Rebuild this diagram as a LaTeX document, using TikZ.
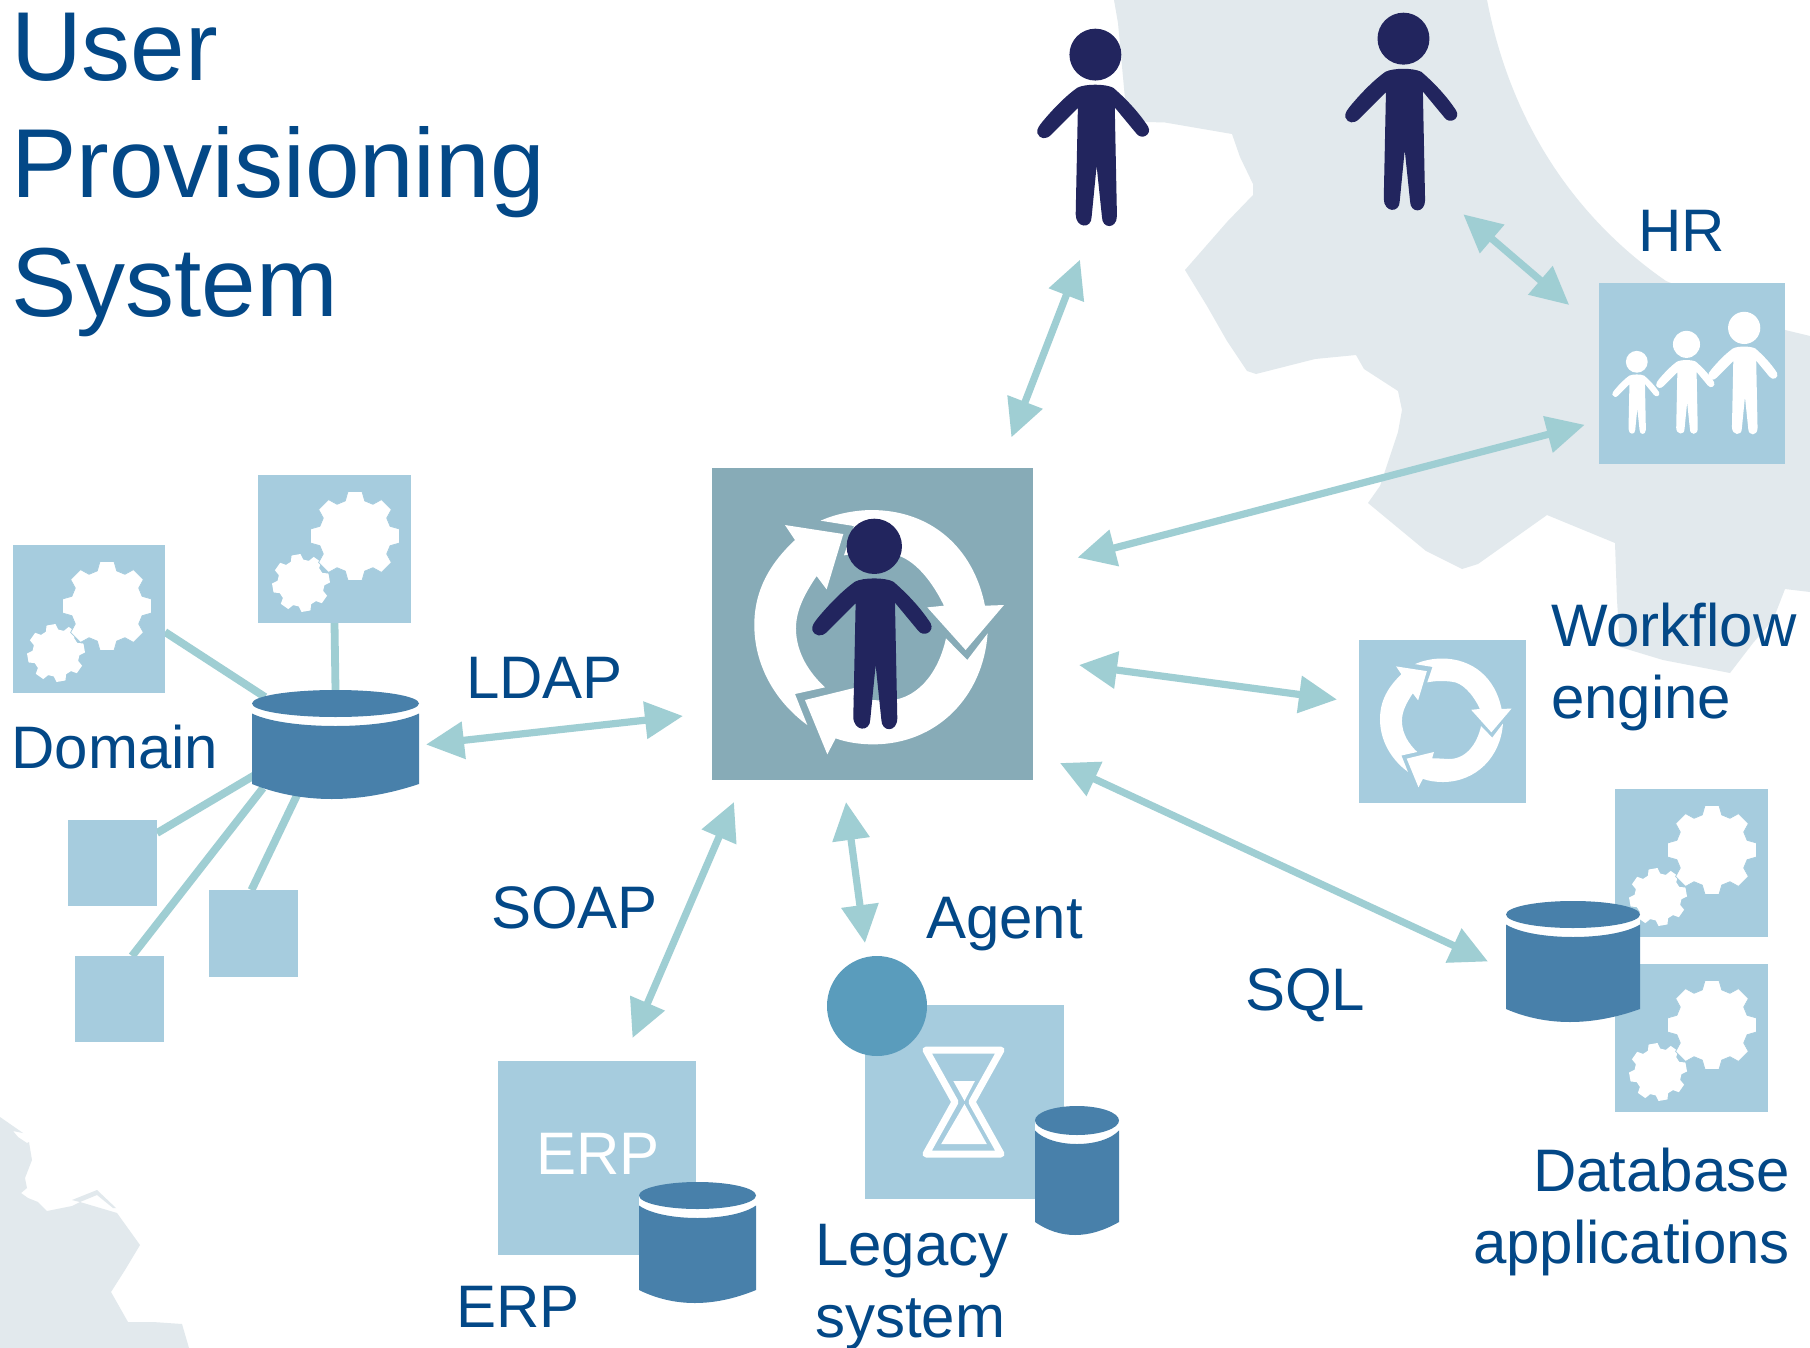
\documentclass[tikz,border=0pt]{standalone}
\usepackage{fontspec}
\setmainfont{Liberation Sans}
\usetikzlibrary{arrows.meta}
\definecolor{txtblue}{HTML}{034887}
\definecolor{boxblue}{HTML}{A6CCDE}
\definecolor{mainbox}{HTML}{87ABB7}
\definecolor{connc}{HTML}{9FCED3}
\definecolor{navy}{HTML}{22255E}
\definecolor{cylc}{HTML}{4880AA}
\definecolor{agentc}{HTML}{5A9CBC}
\definecolor{mapc}{HTML}{E2E9ED}
\pgfdeclarelayer{maplayer}
\pgfdeclarelayer{connlayer}
\pgfsetlayers{maplayer,connlayer,main}
\tikzset{
  label text/.style={inner sep=0pt,outer sep=0pt,text=txtblue,font=\fontsize{30}{36}\selectfont,align=left},
  title text/.style={inner sep=0pt,outer sep=0pt,text=txtblue,font=\fontsize{49}{59}\selectfont,align=left},
  solidbox/.style={inner sep=0pt,outer sep=0pt,fill=boxblue},
  ghost/.style={inner sep=0pt,outer sep=0pt},
  link/.style={draw=connc,line width=3.9pt},
  biarrow/.style={draw=connc,line width=3.6pt,{Triangle[length=19pt,width=18pt]}-{Triangle[length=19pt,width=18pt]}},
}
% name, x1, y1, x2, y2, style
\newcommand\pxbox[6]{\node[#6,minimum width={(#4-#2)*0.5pt},minimum height={(#5-#3)*0.5pt}] (#1) at ({(#2+#4)/2},{(#3+#5)/2}) {};}
% x, y, R, rotation, extra
\newcommand\gearfig[5]{%
  \pgfmathsetmacro\gearroot{#3*0.81}%
  \begin{scope}[shift={(#1,#2)}]
    \fill[white,#5] ({#4-15.5}:\gearroot)
      \foreach \k in {0,...,7}{ -- ({#4+45*\k-15.5}:\gearroot) -- ({#4+45*\k-9}:#3) -- ({#4+45*\k+9}:#3) -- ({#4+45*\k+15.5}:\gearroot) } -- cycle;
  \end{scope}}
% box top-left x, y, big gear offset x
\newcommand\gearpair[3]{%
  \begin{scope}[shift={(#1,#2)}]
    \gearfig{43}{108}{29}{35}{}
    \gearfig{#3}{61}{45}{0}{draw=boxblue,line width=0.4pt}
  \end{scope}}
% name,x1,x2,ytop,ry,ysides,ylow
\newcommand\cylnode[7]{%
  \pgfmathsetmacro\cxa{(#2+#3)/2}%
  \pgfmathsetmacro\cw{#3-#2}%
  \pgfmathsetmacro\crx{\cw/2}%
  \pgfmathsetmacro\cyc{#4+#5}%
  \pgfmathsetmacro\cyo{\cyc+10}%
  \pgfmathsetmacro\cyw{\cyc+#5+10}%
  \pgfmathsetmacro\cyd{\cyo+(#5-1)/0.75}%
  \pgfmathsetmacro\cxl{#2+\cw*0.2}%
  \pgfmathsetmacro\cxr{#3-\cw*0.2}%
  \pgfmathsetmacro\cxp{#2+\cw*0.3}%
  \pgfmathsetmacro\cxq{#3-\cw*0.36}%
  \pgfmathsetmacro\cyb{#6+(#7-#6)/0.75}%
  \pxbox{#1}{#2}{#4}{#3}{#7}{ghost}
  \fill[white] (#2,\cyc) -- (#3,\cyc) -- (#3,\cyw) -- (#2,\cyw) -- cycle;
  \fill[cylc] (\cxa,\cyc) ellipse ({\crx} and {#5});
  \fill[cylc] (#2,\cyo) .. controls (\cxl,\cyd) and (\cxr,\cyd) .. (#3,\cyo)
     -- (#3,#6) .. controls (\cxq,\cyb) and (\cxp,\cyb) .. (#2,#6) -- cycle;
}
% cx, cy, scale
\newcommand\cyclearrows[3]{%
  \begin{scope}[shift={(#1,#2)},scale=#3,shift={(-550,-530)}]
    \fill[white] (352,825) .. controls (250,750) and (193,640) .. (193,525)
      .. controls (193,420) and (240,340) .. (315,270) -- (285,225) -- (460,252) -- (410,418) -- (380,378)
      .. controls (345,430) and (318,480) .. (318,535) .. controls (318,610) and (360,670) .. (405,712)
      -- (315,732) -- cycle;
    \fill[white] (392,212) .. controls (440,190) and (500,180) .. (545,180)
      .. controls (720,180) and (850,290) .. (885,467) -- (942,465) -- (827,600) -- (712,472) -- (762,467)
      .. controls (720,380) and (660,315) .. (600,312) .. controls (550,305) and (500,308) .. (462,316)
      -- (492,228) -- cycle;
    \fill[white] (893,550) .. controls (880,740) and (740,883) .. (550,883)
      .. controls (510,883) and (470,877) .. (437,865) -- (412,913) -- (345,750) -- (500,712) -- (490,748)
      .. controls (520,748) and (550,750) .. (580,752) .. controls (680,755) and (745,670) .. (768,565)
      -- (832,630) -- cycle;
  \end{scope}}
% name, center x, top y, scale, colour
\newcommand\persona[5]{%
  \pgfmathsetmacro\phw{180*#4}%
  \pgfmathsetmacro\phh{631*#4}%
  \pxbox{#1}{#2-\phw}{#3}{#2+\phw}{#3+\phh}{ghost}
  \begin{scope}[shift={(#2,#3)},scale=#4,shift={(-547,-207)}]
    \fill[#5] (553,289) circle (83);
    \fill[#5] (497,460) -- (412,545) .. controls (395,562) and (375,560) .. (367,540)
      .. controls (365,525) and (375,515) .. (385,502) .. controls (420,460) and (460,420) .. (495,395)
      .. controls (520,382) and (585,382) .. (610,395) .. controls (645,425) and (690,470) .. (722,520)
      .. controls (735,545) and (700,565) .. (683,540) -- (615,458) -- (622,805)
      .. controls (622,848) and (574,848) .. (574,808) -- (557,645) -- (541,808)
      .. controls (541,848) and (490,845) .. (490,800) -- cycle;
  \end{scope}}
\begin{document}
\begin{tikzpicture}[x=0.5pt,y=-0.5pt]
\path[use as bounding box] (0,0) rectangle (1810,1348);

% map
\begin{pgfonlayer}{maplayer}
\fill[white] (0,0) rectangle (1810,1348);
\fill[mapc] (1114,0) -- (1118,23) -- (1126.5,115) -- (1147,122) -- (1165,122.5) -- (1232,134) -- (1240,157)
  -- (1253,184) -- (1253,195) -- (1227,222) -- (1185,270) -- (1207,306) -- (1227,341) -- (1247,371)
  -- (1256,374) -- (1315,359) -- (1356,355) -- (1364,369) -- (1398,391) -- (1402,410) -- (1398,432)
  -- (1380,486) -- (1368,503) -- (1426,551) -- (1462,569) -- (1478,564) -- (1547,515) -- (1615,543)
  -- (1617,600) -- (1620,647) -- (1663,660) -- (1730,673) -- (1753,643) -- (1773,620) -- (1785,589)
  -- (1810,592) -- (1810,336) -- (1785,330) -- (1666,281) .. controls (1595,232) and (1515,145) .. (1487,0) -- cycle;
\fill[mapc] (0,1117) -- (23,1133) -- (13,1131) -- (18,1137) -- (27,1143) -- (29,1142) -- (32,1160) -- (25,1178)
  -- (27,1188) -- (21,1193) -- (28,1198) -- (38,1202) -- (47,1211) -- (72,1206) -- (80,1202) -- (72,1200) -- (97,1190)
  -- (116,1208) -- (113,1208) -- (97,1195) -- (80,1202) -- (117,1213) -- (140,1245) -- (125,1270) -- (111,1292) -- (128,1322) -- (153,1322)
  -- (182,1324) -- (189,1348) -- (0,1348) -- cycle;
\end{pgfonlayer}

% title
\node[title text,anchor=base west] (title) at (11,316) {User\\Provisioning\\System};

% main box
\pxbox{main}{712}{468}{1033}{780}{solidbox,fill=mainbox}
\cyclearrows{873.3}{626.7}{0.3333}
\persona{mainp}{872.3}{519}{0.3333}{navy}

% people
\persona{pone}{1093.5}{29}{0.3125}{navy}
\persona{ptwo}{1401.6}{13}{0.313}{navy}

% HR
\pxbox{hr}{1598.6}{283}{1784.6}{464}{solidbox}
\persona{hrc}{1636}{351}{0.1315}{white}
\persona{hrb}{1685.5}{331}{0.163}{white}
\persona{hra}{1743}{312}{0.194}{white}
\node[label text,anchor=base west] (hrl) at (1638,252) {HR};

% workflow
\pxbox{wf}{1359}{640}{1526}{803}{solidbox}
\cyclearrows{1442.7}{720}{0.1757}
\node[label text,anchor=base west] (wfl) at (1551,718) {Workflow\\engine};

% database applications
\pxbox{appa}{1615}{789}{1768}{937}{solidbox}
\gearpair{1615}{789}{97}
\pxbox{appb}{1615}{964}{1768}{1112}{solidbox}
\gearpair{1615}{964}{97}
\cylnode{dba}{1506}{1640}{901}{13.5}{1009}{1022}
\node[label text,anchor=base east,align=right] (dbl) at (1790,1263) {Database\\applications};
\node[label text,anchor=base west] (sql) at (1245,1010) {SQL};

% domain
\pxbox{doma}{13}{545}{165}{693}{solidbox}
\gearpair{13}{545}{94}
\pxbox{domb}{258}{475}{411}{623}{solidbox}
\gearpair{258}{475}{97}
\cylnode{dbd}{252}{419}{690}{13.5}{784}{799}
\pxbox{sqa}{68}{820}{157}{906}{solidbox}
\pxbox{sqb}{209}{890}{298}{977}{solidbox}
\pxbox{sqc}{75}{956}{164}{1042}{solidbox}
\node[label text,anchor=base west] (doml) at (11.5,768) {Domain};
\node[label text,anchor=base west] (ldap) at (466,698) {LDAP};
\node[label text,anchor=base west] (soap) at (491,928) {SOAP};

% ERP
\pxbox{erp}{498}{1061}{696}{1255}{solidbox}
\node[label text,anchor=base west,text=white] (erpw) at (536,1174) {ERP};
\cylnode{dbe}{639}{756}{1182}{13.5}{1290}{1303}
\node[label text,anchor=base west] (erpl) at (456,1327) {ERP};

% legacy
\pxbox{leg}{865}{1005}{1064}{1199}{solidbox}
\draw[white,line width=3.5pt,line join=round] (926,1050) -- (1001,1050) -- (972,1102) -- (1001,1154) -- (926,1154) -- (955,1102) -- cycle;
\fill[white] (953.3,1081) -- (974.9,1081) -- (964.5,1101) -- cycle;
\fill[white] (964.5,1104) -- (986.8,1144) -- (941.2,1144) -- cycle;
\node[circle,fill=agentc,inner sep=0pt,outer sep=0pt,minimum size=50pt] (agent) at (877,1006) {};
\cylnode{dbl}{1035}{1119}{1106}{14.5}{1222}{1235}
\node[label text,anchor=base west] (agl) at (926,938) {Agent};
\node[label text,anchor=base west] (legl) at (815,1337) {Legacy\\system};

% connectors
\begin{pgfonlayer}{connlayer}
\draw[link] ([shift={(0,13)}]doma.east) -- ([shift={(-70.5,7)}]dbd.north);
\draw[link] (domb.south) -- (dbd.north);
\draw[link] ([shift={(0,-30)}]sqa.east) -- ([shift={(2,31)}]dbd.west);
\draw[link] ([shift={(12.5,0)}]sqc.north) -- ([shift={(-72.5,-11)}]dbd.south);
\draw[link] ([shift={(-2,0)}]sqb.north) -- ([shift={(-36.5,-8)}]dbd.south);
\draw[biarrow] ([shift={(7,0)}]dbd.east) -- ([shift={(-29,92)}]main.west);
\draw[biarrow] ([shift={(138.9,-30.6)}]main.north) -- ([shift={(-13.5,33.5)}]pone.south);
\draw[biarrow] ([shift={(61.7,3.8)}]ptwo.south) -- ([shift={(-29.4,-68.5)}]hr.west);
\draw[biarrow] ([shift={(44.5,-66.4)}]main.east) -- ([shift={(-13.9,51.3)}]hr.west);
\draw[biarrow] ([shift={(46,41)}]main.east) -- ([shift={(-22,-22)}]wf.west);
\draw[biarrow] ([shift={(27,139)}]main.east) -- ([shift={(-18,0)}]dba.west);
\draw[biarrow] ([shift={(-138.5,22)}]main.south) -- ([shift={(35.5,-23)}]erp.north);
\draw[biarrow] ([shift={(-26.5,22)}]main.south) -- ([shift={(-12,-13)}]agent.north);
\end{pgfonlayer}
\end{tikzpicture}
\end{document}
